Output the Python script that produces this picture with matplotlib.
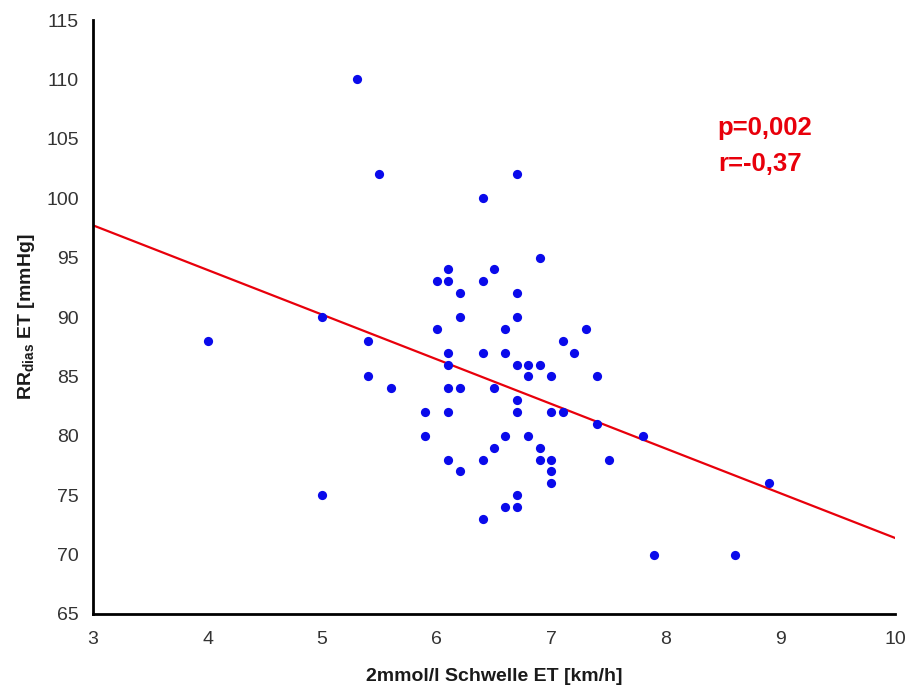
import numpy as np
import matplotlib
matplotlib.use("Agg")
import matplotlib.pyplot as plt

plt.rcParams['font.family'] = ['Liberation Sans', 'DejaVu Sans']
plt.rcParams['mathtext.fontset'] = 'custom'
plt.rcParams['mathtext.bf'] = 'Liberation Sans:bold'
plt.rcParams['mathtext.rm'] = 'Liberation Sans'

# 2mmol/l threshold speed [km/h]
schwelle = [4.0, 5.0, 5.0, 5.3, 5.5, 5.4, 5.4, 5.6, 5.9, 5.9,
            6.0, 6.0, 6.1, 6.1, 6.1, 6.1, 6.1, 6.1, 6.1,
            6.2, 6.2, 6.2, 6.2, 6.4, 6.4, 6.4, 6.4, 6.4,
            6.5, 6.5, 6.5, 6.6, 6.6, 6.6, 6.6,
            6.7, 6.7, 6.7, 6.7, 6.7, 6.7, 6.7, 6.7,
            6.8, 6.8, 6.8, 6.9, 6.9, 6.9, 6.9,
            7.0, 7.0, 7.0, 7.0, 7.0, 7.1, 7.1, 7.2, 7.3, 7.4, 7.4,
            7.5, 7.8, 7.9, 8.6, 8.9]
# diastolic blood pressure [mmHg]
rr_dias = [88, 90, 75, 110, 102, 88, 85, 84, 82, 80,
           93, 89, 94, 93, 87, 86, 84, 82, 78,
           92, 90, 84, 77, 100, 93, 87, 78, 73,
           94, 84, 79, 89, 87, 80, 74,
           102, 92, 90, 86, 83, 82, 75, 74,
           86, 85, 80, 95, 86, 79, 78,
           85, 82, 78, 77, 76, 88, 82, 87, 89, 85, 81,
           78, 80, 70, 70, 76]

# regression line
fit_intercept = 109.0
fit_slope = -3.76

x_ticks = [3, 4, 5, 6, 7, 8, 9, 10]
y_ticks = [65, 70, 75, 80, 85, 90, 95, 100, 105, 110, 115]

fig = plt.figure(figsize=(9.08, 6.86), dpi=100)
ax = fig.add_axes([0.1024, 0.105, 0.8833, 0.8658])

ax.scatter(schwelle, rr_dias, s=44, color='#0a0aeb', zorder=3, linewidths=0)

xl = np.array([x_ticks[0], x_ticks[-1]])
ax.plot(xl, fit_intercept + fit_slope * xl, color='#e8000b', lw=1.6, zorder=2)

ax.set_xlim(x_ticks[0], x_ticks[-1])
ax.set_ylim(y_ticks[0], y_ticks[-1])
ax.set_xticks(x_ticks)
ax.set_yticks(y_ticks)
ax.tick_params(length=0, labelsize=14, colors='#333333', pad=10)
ax.tick_params(axis='x', pad=12)

for side in ['top', 'right']:
    ax.spines[side].set_visible(False)
for side in ['left', 'bottom']:
    ax.spines[side].set_linewidth(2)
    ax.spines[side].set_color('black')

ax.set_xlabel('2mmol/l Schwelle ET [km/h]', fontsize=14, fontweight='bold',
              color='#1a1a1a', labelpad=15)
ax.set_ylabel(r'RR$_{\bf dias}$ ET [mmHg]', fontsize=14, fontweight='bold',
              color='#1a1a1a', labelpad=7)

ax.text(0.779, 0.806, 'p=0,002', transform=ax.transAxes, fontsize=18.5,
        fontweight='bold', color='#e8000b', ha='left', va='baseline')
ax.text(0.779, 0.746, 'r=-0,37', transform=ax.transAxes, fontsize=18.5,
        fontweight='bold', color='#e8000b', ha='left', va='baseline')

fig.savefig('out.png', dpi=100)
